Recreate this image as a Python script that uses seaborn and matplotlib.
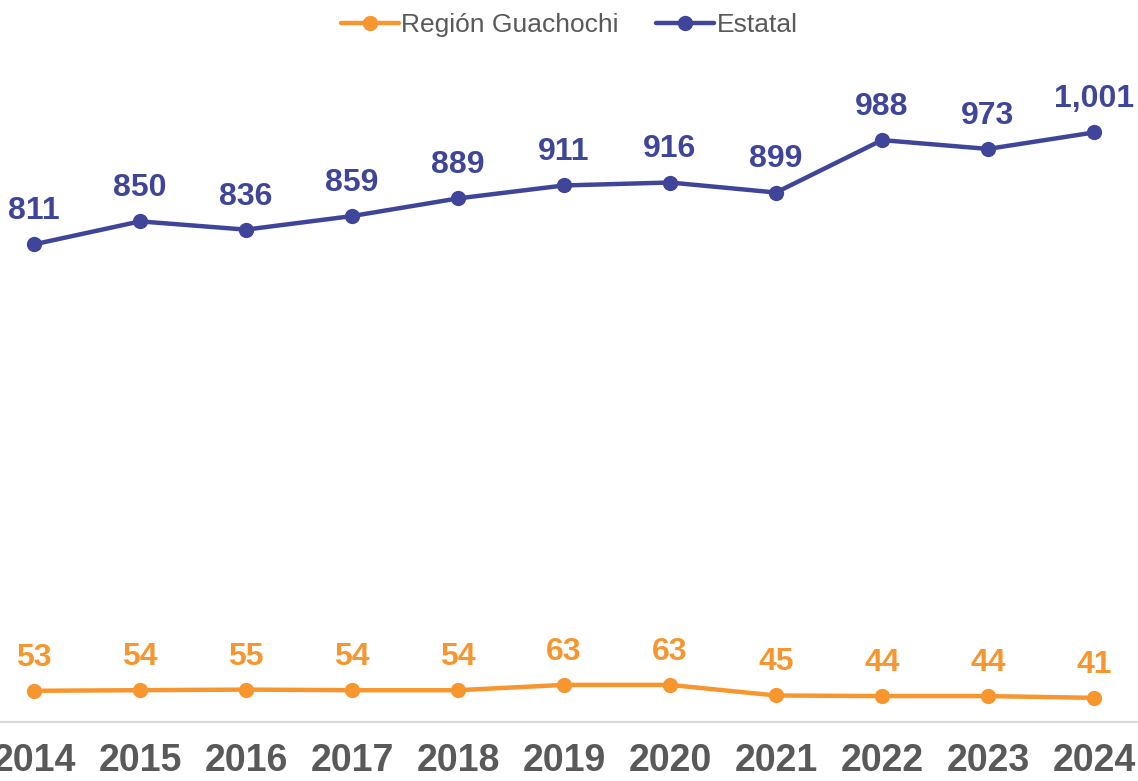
import pandas as pd
import seaborn as sns
import matplotlib.pyplot as plt

years = [2014, 2015, 2016, 2017, 2018, 2019, 2020, 2021, 2022, 2023, 2024]
guachochi = [53, 54, 55, 54, 54, 63, 63, 45, 44, 44, 41]
estatal = [811, 850, 836, 859, 889, 911, 916, 899, 988, 973, 1001]
series_names = ["Región Guachochi", "Estatal"]
colors = {"Región Guachochi": "#F7962F", "Estatal": "#3F4699"}

df = pd.DataFrame({
    "Año": years * 2,
    "Valor": guachochi + estatal,
    "Serie": [series_names[0]] * len(years) + [series_names[1]] * len(years),
})

sns.set_style("white")
plt.rcParams["font.family"] = ["Liberation Sans", "DejaVu Sans"]

fig = plt.figure(figsize=(11.38, 7.81), dpi=100)
ax = fig.add_axes([0, 1 - 722 / 781, 1, (722 - 60) / 781])

sns.lineplot(data=df, x="Año", y="Valor", hue="Serie", palette=colors,
             marker="o", markersize=11, markeredgewidth=0, linewidth=3.2,
             ax=ax, legend=False)

# etiquetas de datos sobre cada punto
for name, vals in zip(series_names, [guachochi, estatal]):
    for x, v in zip(years, vals):
        ax.annotate(f"{v:,}", (x, v), xytext=(0, 13), textcoords="offset points",
                    ha="center", va="bottom", fontsize=23, fontweight="bold",
                    color=colors[name])

ax.set_xlim(2014 - 34 / 106, 2024 + 44 / 106)
ax.set_ylim(0, 1124)
ax.set_xticks(years)
ax.set_xticklabels([str(y) for y in years], fontsize=27, fontweight="bold", color="#595959")
ax.tick_params(axis="x", length=0, pad=15)
ax.set_yticks([])
ax.set_xlabel("")
ax.set_ylabel("")
for s in ["top", "right", "left"]:
    ax.spines[s].set_visible(False)
ax.spines["bottom"].set_color("#D9D9D9")
ax.spines["bottom"].set_linewidth(1.5)

handles = [plt.Line2D([], [], color=colors[n], marker="o", markersize=10, linewidth=3.2)
           for n in series_names]
fig.legend(handles, series_names, loc="upper center", bbox_to_anchor=(0.5, 1.0),
           ncol=2, frameon=False, fontsize=19, handlelength=2.2, handletextpad=0.1,
           columnspacing=1.4, labelcolor="#595959", borderaxespad=0.1)

fig.savefig("out.png", dpi=100)
